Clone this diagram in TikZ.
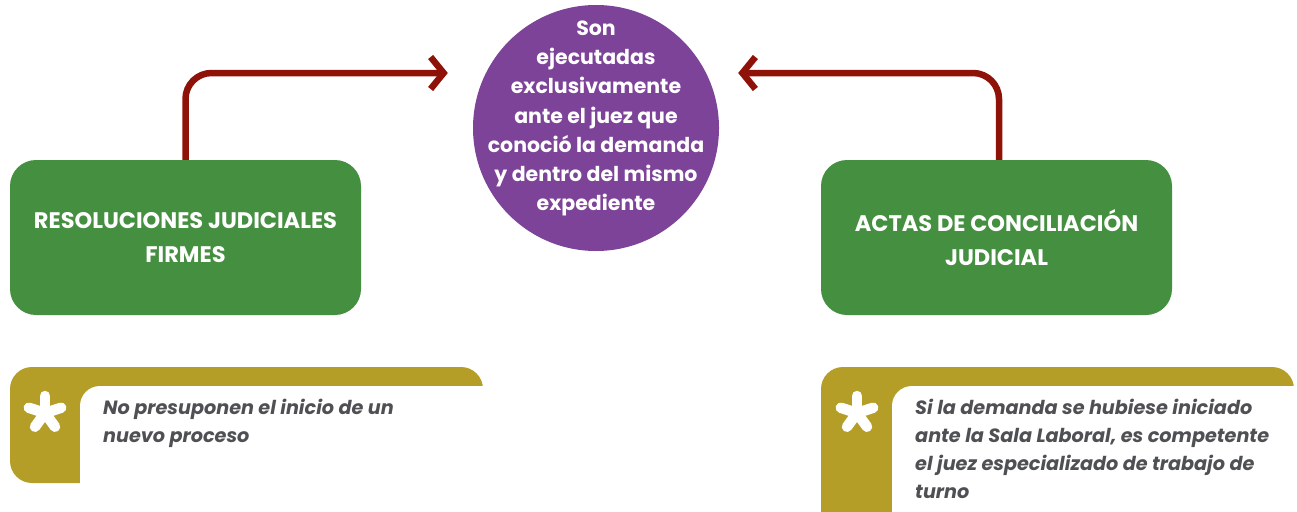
\documentclass[tikz,border=0pt]{standalone}
\usepackage{fontspec}
\setmainfont{Poppins}
\usetikzlibrary{arrows.meta,positioning}
\definecolor{verde}{HTML}{458F41}
\definecolor{morado}{HTML}{7D4399}
\definecolor{olivo}{HTML}{B49E28}
\definecolor{guinda}{HTML}{8E1208}
\definecolor{grisnota}{HTML}{4F5054}
\tikzset{
  caja/.style={fill=verde, rounded corners=26pt, minimum width=351pt, minimum height=155pt,
    text=white, font=\fontsize{22.5}{34}\selectfont\bfseries, align=center},
  flecha/.style={guinda, line width=6.5pt, rounded corners=26pt,
    -{Straight Barb[length=13pt,width=32pt]}},
  notatexto/.style={text=grisnota, font=\fontsize{19.2}{28}\selectfont\bfseries\itshape,
    align=left, anchor=north west, inner sep=0pt}
}
\newcommand{\estrella}[1]{%
  \foreach \a in {90,162,234,306,18}
    \draw[white, line width=10.5pt, line cap=round] (#1) -- ++(\a:17pt);
}
\begin{document}
\begin{tikzpicture}[x=1pt,y=-1pt]
  \useasboundingbox (0,0) rectangle (1297,511);
  % circulo central
  \node[circle, fill=morado, minimum size=246pt, inner sep=0pt] (centro) at (596,128) {};
  \node[text=white, font=\fontsize{20.5}{29.3}\selectfont\bfseries, align=center] (textocentro) at (596,118.5)
    {Son\\ejecutadas\\exclusivamente\\ante el juez que\\conoció la demanda\\y dentro del mismo\\expediente};

  \node[caja] (resol) at (185.5,237.5) {RESOLUCIONES JUDICIALES\\FIRMES};
  \node[caja] (actas) at (996.5,237.5) {ACTAS DE CONCILIACIÓN\\JUDICIAL};

  \draw[flecha] (resol.north) |- ([xshift=-25pt, yshift=55pt]centro.west);
  \draw[flecha] ([xshift=2.5pt]actas.north) |- ([xshift=19pt, yshift=55pt]centro.east);

  % notas
  \fill[olivo, rounded corners=22pt] (10,367) rectangle (483,483);
  \fill[white, rounded corners=20pt] (80,386) rectangle (530,560);
  \estrella{45,413}
  \node[notatexto] (notaizq) at (103,399) {No presuponen el inicio de un\\nuevo proceso};

  \fill[olivo, rounded corners=22pt] (821,367) rectangle (1294,540);
  \fill[white, rounded corners=20pt] (892,386) rectangle (1330,560);
  \estrella{857,413}
  \node[notatexto] (notader) at (915,399) {Si la demanda se hubiese iniciado\\ante la Sala Laboral, es competente\\el juez especializado de trabajo de\\turno};
\end{tikzpicture}
\end{document}
